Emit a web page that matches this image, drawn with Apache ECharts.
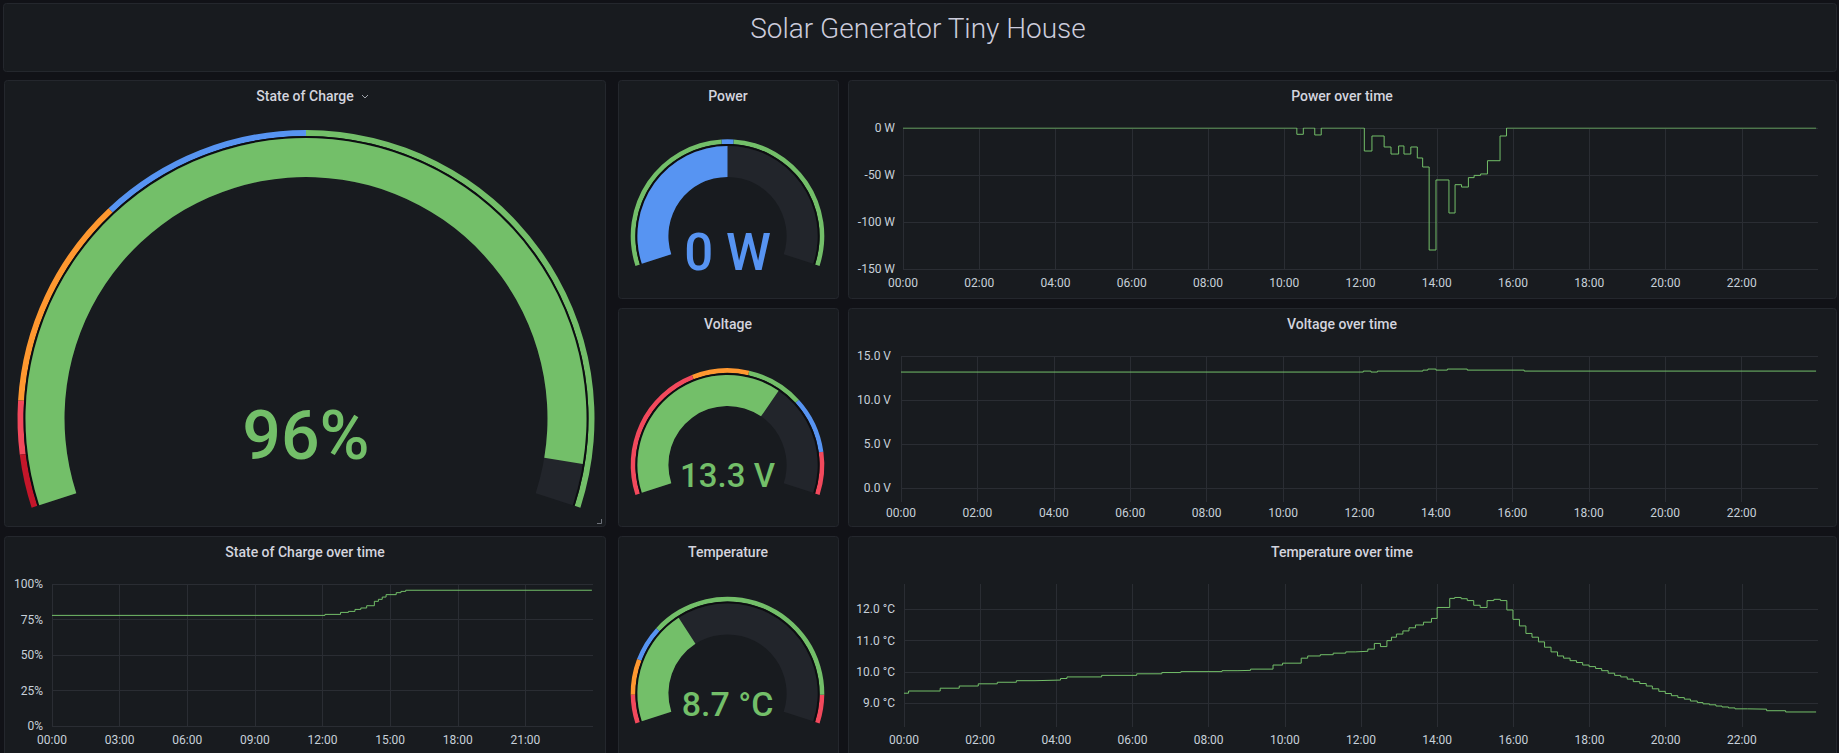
<!DOCTYPE html>
<html>
<head>
<meta charset="utf-8">
<title>Solar Generator Tiny House</title>
<script src="https://cdn.jsdelivr.net/npm/echarts@6/dist/echarts.min.js"></script>
<style>
  html, body { margin: 0; padding: 0; background: #111217; }
  #dashboard { width: 1839px; height: 753px; }
</style>
</head>
<body>
<div id="dashboard"></div>
<script>
// ---- current readings (gauges) ----
const socValue = 96;
const powerValue = 0;
const voltageValue = 13.3;
const temperatureValue = 8.7;

// gauge ranges + threshold steps (value where each colour starts)
const socRange = [0, 100];
const socThresholds = [0, 5, 10, 30, 50];
const powerRange = [-150, 150];
const powerThresholds = [-150, -5, 5];
const voltageRange = [10, 15];
const voltageThresholds = [10, 12, 12.8, 13.6, 14.4];
const temperatureRange = [0, 25];
const temperatureThresholds = [0, 2, 4.5, 7, 23];

// ---- time series, hours since 00:00 (stepped) ----
const powerHours = [0, 10.33, 10.5, 10.8, 10.97, 12.1, 12.3, 12.62, 12.8, 13.0, 13.14, 13.32, 13.49, 13.63, 13.8, 13.98, 14.32, 14.48, 14.65, 14.83, 14.98, 15.15, 15.33, 15.66, 15.83, 23.95];
const powerValues = [0, -6.7, 0, -7.4, 0, -24.5, -8.5, -20.2, -27.7, -19.1, -27.7, -20.2, -31.9, -41.5, -129.8, -55.3, -90.4, -60.3, -62.8, -52.8, -50.4, -48.9, -34.8, -8.5, 0, 0];

const voltageHours = [0, 12.1, 12.3, 12.47, 13.66, 13.79, 14.0, 14.3, 14.82, 16.31, 23.95];
const voltageValues = [13.18, 13.29, 13.18, 13.29, 13.4, 13.52, 13.4, 13.52, 13.4, 13.29, 13.29];

const socHours = [0, 12.11, 12.8, 13.15, 13.44, 13.7, 13.96, 14.3, 14.48, 14.65, 14.82, 15.27, 15.48, 15.69, 23.95];
const socValues = [77.9, 78.6, 80.0, 80.7, 82.1, 83.1, 84.7, 87.8, 89.2, 90.8, 92.5, 93.9, 94.8, 95.6, 95.6];

const temperatureHours = [0, 0.12, 0.95, 1.45, 1.95, 2.45, 2.95, 3.44, 4.11, 4.28, 5.19, 6.11, 6.77, 7.27, 8.35, 8.77, 9.1, 9.69, 9.94, 10.43,
  10.6, 10.93, 11.27, 11.6, 11.85, 12.18, 12.35, 12.51, 12.68, 12.8, 12.93, 13.1, 13.26, 13.43, 13.64, 13.85, 14.0, 14.33, 14.46, 14.63,
  14.79, 14.96, 15.13, 15.31, 15.49, 15.66, 15.83, 15.99, 16.16, 16.33, 16.49, 16.66, 16.82, 16.99, 17.16, 17.32, 17.49, 17.66, 17.82, 17.99,
  18.16, 18.32, 18.49, 18.66, 18.82, 18.99, 19.15, 19.32, 19.49, 19.65, 19.82, 19.99, 20.15, 20.32, 20.49, 20.65, 20.83, 20.98, 21.15, 21.32,
  21.48, 21.65, 21.82, 22.15, 22.65, 23.15, 23.95];
const temperatureValues = [9.32, 9.39, 9.48, 9.55, 9.62, 9.67, 9.72, 9.74, 9.79, 9.84, 9.89, 9.94, 9.98, 10.01, 10.04, 10.05, 10.09, 10.22, 10.28, 10.44,
  10.51, 10.55, 10.6, 10.64, 10.66, 10.73, 10.91, 10.81, 11.0, 11.11, 11.21, 11.31, 11.41, 11.5, 11.59, 11.71, 12.06, 12.35, 12.38, 12.34,
  12.28, 12.13, 12.06, 12.28, 12.32, 12.28, 11.98, 11.68, 11.47, 11.23, 11.11, 10.96, 10.79, 10.64, 10.51, 10.44, 10.36, 10.3, 10.22, 10.17,
  10.11, 10.04, 9.96, 9.89, 9.84, 9.77, 9.69, 9.63, 9.55, 9.46, 9.38, 9.31, 9.24, 9.18, 9.13, 9.07, 9.02, 8.98, 8.95, 8.91,
  8.88, 8.85, 8.82, 8.81, 8.76, 8.72, 8.72];

// tick labels
const hourTicks2 = [0, 2, 4, 6, 8, 10, 12, 14, 16, 18, 20, 22];
const hourTicks3 = [0, 3, 6, 9, 12, 15, 18, 21];
const powerTicks = [-150, -100, -50, 0];
const voltageTicks = [0, 5, 10, 15];
const socTicks = [0, 25, 50, 75, 100];
const temperatureTicks = [9, 10, 11, 12];

// ---- styles ----
const GREEN = '#73bf69', BLUE = '#5794f2', ORANGE = '#ff9830', RED = '#f2495c', DARK_RED = '#c4162a';
const FONT = 'Roboto, "Noto Sans", sans-serif';
const TEXT = '#d3d4de';
const AXIS_TEXT = '#c7d0d9';
const GRID_LINE = '#2a2d33';

const socColors = [DARK_RED, RED, ORANGE, BLUE, GREEN];
const powerColors = [GREEN, BLUE, GREEN];
const voltageColors = [RED, ORANGE, GREEN, BLUE, RED];
const temperatureColors = [RED, ORANGE, BLUE, GREEN, RED];

function pad(n) { return (n < 10 ? '0' : '') + n; }

// threshold list -> colour stops of the outer ring
function bandStops(range, steps, colors) {
  return steps.map(function (v, i) {
    const end = i + 1 < steps.length ? steps[i + 1] : range[1];
    return [(end - range[0]) / (range[1] - range[0]), colors[i]];
  });
}

// one grafana-like gauge = threshold ring + thin dark gap + value bar
function gauge(g) {
  const base = {
    type: 'gauge', center: g.center, startAngle: 198, endAngle: -18,
    min: g.range[0], max: g.range[1], silent: true,
    splitLine: { show: false }, axisTick: { show: false }, axisLabel: { show: false },
    pointer: { show: false }, anchor: { show: false }, title: { show: false },
    data: [{ value: g.value }]
  };
  return [
    Object.assign({}, base, {
      radius: g.r,
      axisLine: { lineStyle: { width: g.band, color: bandStops(g.range, g.steps, g.colors) } },
      detail: { show: false }
    }),
    Object.assign({}, base, {
      radius: g.r - g.band,
      axisLine: { lineStyle: { width: 2, color: [[1, '#0d0e11']] } },
      detail: { show: false }
    }),
    Object.assign({}, base, {
      radius: g.r - g.band - 2,
      axisLine: { lineStyle: { width: g.bar, color: [[1, '#22252b']] } },
      progress: { show: true, width: g.bar, roundCap: false, itemStyle: { color: g.color } },
      detail: {
        show: true, offsetCenter: [0, g.dy], fontSize: g.fontSize, fontWeight: 500,
        fontFamily: FONT, color: g.color, formatter: g.fmt, valueAnimation: false
      }
    })
  ];
}

// time series panels
const grids = [], xAxes = [], yAxes = [], lines = [];
function timeChart(t) {
  const i = grids.length;
  grids.push({ left: t.left, top: t.top, width: t.width, height: t.height, containLabel: false });
  xAxes.push({
    type: 'value', gridIndex: i, min: 0, max: 24,
    axisLine: { show: false },
    axisTick: { show: false, customValues: t.xTicks },
    axisLabel: { customValues: t.xTicks, color: AXIS_TEXT, fontSize: 12, fontFamily: FONT, margin: t.xMargin,
      formatter: function (h) { return pad(h) + ':00'; } },
    splitLine: { show: true, lineStyle: { color: GRID_LINE, width: 1 } }
  });
  yAxes.push({
    type: 'value', gridIndex: i, min: t.yMin, max: t.yMax,
    axisLine: { show: false },
    axisTick: { show: false, customValues: t.yTicks },
    axisLabel: { customValues: t.yTicks, color: AXIS_TEXT, fontSize: 12, fontFamily: FONT, margin: t.yMargin,
      formatter: t.yFmt },
    splitLine: { show: true, lineStyle: { color: GRID_LINE, width: 1 } }
  });
  lines.push({
    type: 'line', xAxisIndex: i, yAxisIndex: i, step: 'end', showSymbol: false, silent: true,
    lineStyle: { color: GREEN, width: 1 },
    data: t.hours.map(function (h, k) { return [h, t.values[k]]; })
  });
}

timeChart({ left: 903, top: 128, width: 915, height: 141, yMin: -150, yMax: 0, yTicks: powerTicks,
  yFmt: function (v) { return v + ' W'; }, xTicks: hourTicks2, hours: powerHours, values: powerValues, yMargin: 8, xMargin: 8 });
timeChart({ left: 901, top: 356, width: 917, height: 146, yMin: -1.55, yMax: 15, yTicks: voltageTicks,
  yFmt: function (v) { return v.toFixed(1) + ' V'; }, xTicks: hourTicks2, hours: voltageHours, values: voltageValues, yMargin: 10, xMargin: 5 });
timeChart({ left: 52, top: 584, width: 541, height: 142, yMin: 0, yMax: 100, yTicks: socTicks,
  yFmt: function (v) { return v + '%'; }, xTicks: hourTicks3, hours: socHours, values: socValues, yMargin: 9, xMargin: 8 });
timeChart({ left: 904, top: 584, width: 914, height: 143, yMin: 8.24, yMax: 12.81, yTicks: temperatureTicks,
  yFmt: function (v) { return v.toFixed(1) + ' °C'; }, xTicks: hourTicks2, hours: temperatureHours, values: temperatureValues, yMargin: 9, xMargin: 7 });

const gauges = [].concat(
  gauge({ center: [306, 418.5], r: 288.5, band: 6, bar: 39, range: socRange, steps: socThresholds, colors: socColors,
    value: socValue, color: GREEN, dy: 17.5, fontSize: 68, fmt: '{value}%' }),
  gauge({ center: [727.5, 236], r: 96.8, band: 4.7, bar: 31, range: powerRange, steps: powerThresholds, colors: powerColors,
    value: powerValue, color: BLUE, dy: 16, fontSize: 51, fmt: '{value} W' }),
  gauge({ center: [727.5, 465], r: 96.8, band: 4.7, bar: 31, range: voltageRange, steps: voltageThresholds, colors: voltageColors,
    value: voltageValue, color: GREEN, dy: 10, fontSize: 33, fmt: function (v) { return v.toFixed(1) + ' V'; } }),
  gauge({ center: [727.5, 693.5], r: 96.8, band: 4.7, bar: 31, range: temperatureRange, steps: temperatureThresholds, colors: temperatureColors,
    value: temperatureValue, color: GREEN, dy: 10.5, fontSize: 34, fmt: function (v) { return v.toFixed(1) + ' °C'; } })
);

// panel frames and titles
const panels = [
  [3.5, 3.5, 1833, 68],
  [4.5, 80.5, 601, 446], [618.5, 80.5, 220, 218], [848.5, 80.5, 988, 218],
  [618.5, 308.5, 220, 218], [848.5, 308.5, 988, 218],
  [4.5, 536.5, 601, 240], [618.5, 536.5, 220, 240], [848.5, 536.5, 988, 240]
];
const titles = [
  ['State of Charge', 305, 96], ['Power', 728, 96], ['Power over time', 1342, 96],
  ['Voltage', 728, 324], ['Voltage over time', 1342, 324],
  ['State of Charge over time', 305, 552], ['Temperature', 728, 552], ['Temperature over time', 1342, 552]
];
const graphics = panels.map(function (p) {
  return { type: 'rect', silent: true, z: -10, shape: { x: p[0], y: p[1], width: p[2], height: p[3], r: 3 },
    style: { fill: '#181b1f', stroke: '#24272d', lineWidth: 1 } };
});
titles.forEach(function (t) {
  graphics.push({ type: 'text', silent: true, x: t[1], y: t[2],
    style: { text: t[0], fill: TEXT, font: '500 14px ' + FONT, textAlign: 'center', textVerticalAlign: 'middle' } });
});
graphics.push({ type: 'text', silent: true, x: 918, y: 28,
  style: { text: 'Solar Generator Tiny House', fill: '#ccccdc', font: '300 28px ' + FONT, textAlign: 'center', textVerticalAlign: 'middle' } });
// little dropdown chevron next to the SoC title + resize corner
graphics.push({ type: 'polyline', silent: true, shape: { points: [[362, 95], [365, 98], [368, 95]] },
  style: { stroke: '#9fa3aa', lineWidth: 1, fill: null } });
graphics.push({ type: 'polyline', silent: true, shape: { points: [[597, 523.5], [601.5, 523.5], [601.5, 519]] },
  style: { stroke: '#6e727a', lineWidth: 1, fill: null } });

const chart = echarts.init(document.getElementById('dashboard'), null, { renderer: 'svg' });
chart.setOption({
  backgroundColor: '#111217',
  animation: false,
  textStyle: { fontFamily: FONT },
  graphic: graphics,
  grid: grids,
  xAxis: xAxes,
  yAxis: yAxes,
  series: lines.concat(gauges)
});
</script>
</body>
</html>
